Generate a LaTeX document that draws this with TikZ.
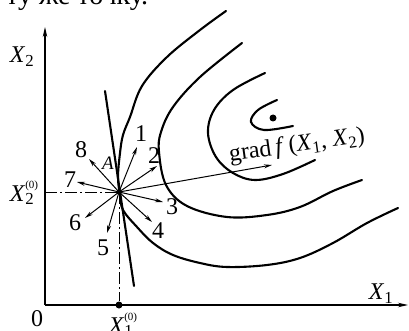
\documentclass[tikz,border=0pt]{standalone}
\usepackage{fontspec}
\setmainfont{Liberation Serif}
\usetikzlibrary{arrows.meta}
\newcommand{\Xv}[1]{\textit{X}\textsubscript{#1}}
\newcommand{\Xz}[1]{\textit{X}\rlap{\raisebox{1.1ex}{\fontsize{11}{12}\selectfont(0)}}\textsubscript{#1}}

\begin{document}
\begin{tikzpicture}[x=1pt,y=-1pt,
  font=\fontsize{24}{28}\selectfont,
  axis/.style={line width=1.2pt, -{Stealth[length=10pt,width=4.5pt]}},
  level/.style={line width=2.1pt, line cap=round},
  ray/.style={line width=1pt, -{Stealth[length=8pt,width=4pt]}},
  guide/.style={line width=1pt, dash pattern=on 12pt off 3pt on 2pt off 3pt},
  lab/.style={inner sep=0pt}
]
\useasboundingbox (0,0) rectangle (409,331);
\clip (0,0) rectangle (409,331);

% cut line of text above the figure
\node[lab, anchor=base west, font=\fontsize{28}{32}\selectfont] (head) at (6,5) {ту же точку.};

% axes
\coordinate (O) at (45,305);
\draw[axis] (O) -- (45,27) coordinate (ytip);
\draw[axis] (O) -- (408,305) coordinate (xtip);
\node[lab] (zero) at (37,319) {0};
\node[lab] (x2) at (22,57) {\Xv{2}};
\node[lab] (x1) at (381,294) {\Xv{1}};

% starting point
\node[circle, fill, inner sep=0pt, minimum size=5pt] (A) at (119,192) {};
\node[circle, fill, inner sep=0pt, minimum size=7pt] (x1pt) at (119,305) {};
\coordinate (x2pt) at (45,192);
\draw[guide] (x2pt) -- (A.center);
\draw[guide] (A.center) -- (x1pt);
\node[lab] (x20) at (22,193) {\Xz{2}};
\node[lab] (x10) at (121,325) {\Xz{1}};

% level lines
\draw[level] plot[smooth, tension=0.6] coordinates {(226,11) (200,30) (167,57) (142,86) (130,117) (123,135) (120,153) (118,177) (120,195) (123,210) (137,227) (153,243) (173,255) (200,263) (227,267) (267,265) (300,258) (333,243) (367,223) (398,208)};
\draw[level] plot[smooth, tension=0.6] coordinates {(242,43) (200,77) (173,107) (161,132) (159,152) (166,185) (187,206) (227,217) (267,215) (300,207) (333,191) (362,180)};
\draw[level] plot[smooth, tension=0.6] coordinates {(265,73) (233,90) (214,110) (208,133) (216,157) (233,173) (255,180) (283,174) (315,160)};
\draw[level] plot[smooth, tension=0.6] coordinates {(277,100) (258,110) (251,122) (264,130) (293,126)};
\node[circle, fill, inner sep=0pt, minimum size=7pt] (top) at (273,118) {};

% tangent line
\coordinate (t1) at (105,91);
\coordinate (t2) at (134,286);
\draw[level] (t1) -- (t2);

% gradient
\draw[ray] (A.center) -- (272,165) coordinate (gtip);
\node[lab, rotate=8] (grad) at (297,146) {grad\,\textit{f}\,(\Xv{1}, \Xv{2})};

% trial directions
\foreach \n/\tx/\ty/\lx/\ly in {1/137/147/141/134, 2/157/166/154/156, 3/163/202/172/207,
  4/152/222/158/231, 5/107/233/103/248, 6/85/218/75/223, 7/77/182/70/180, 8/89/159/81/150}{
  \coordinate (d\n) at (\tx,\ty);
  \draw[ray] (A.center) -- (d\n);
  \node[lab] (l\n) at (\lx,\ly) {\n};
}
\node[lab, font=\fontsize{19}{22}\selectfont\itshape] (Alab) at (108,163) {A};
\end{tikzpicture}
\end{document}
